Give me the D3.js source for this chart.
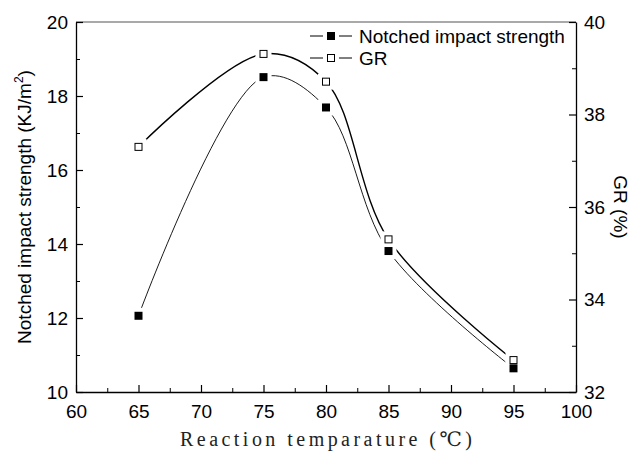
<!DOCTYPE html>
<html>
<head>
<meta charset="utf-8">
<script src="https://cdn.jsdelivr.net/npm/d3@7"></script>
<style>
  body { margin: 0; background: #fff; }
  text { font-family: "Liberation Sans", Arial, sans-serif; }
</style>
</head>
<body>
<div id="chart"></div>
<script>
// reaction temperature vs notched impact strength + GR, dual y axis

let temps = [65, 75, 80, 85, 95]
let impact = [12.06, 18.51, 17.69, 13.81, 10.64]
let gr = [37.30, 39.31, 38.71, 35.30, 32.69]

let xTicks = [60, 65, 70, 75, 80, 85, 90, 95, 100]
let leftTicks = [10, 12, 14, 16, 18, 20]
let rightTicks = [32, 34, 36, 38, 40]

let margin = {top: 22, bottom: 62, left: 76, right: 59}
let width = 635 - margin.left - margin.right
let height = 454 - margin.top - margin.bottom

let svg = d3.select('#chart')
    .append('svg')
    .attr('width', 635)
    .attr('height', 454)

let g = svg.append('g')
    .attr('transform', `translate(${margin.left},${margin.top})`)

let x = d3.scaleLinear().domain([60, 100]).range([0, width])
let yL = d3.scaleLinear().domain([10, 20]).range([height, 0])
let yR = d3.scaleLinear().domain([32, 40]).range([height, 0])

let fontSize = 19

// frame top line
g.append('line')
    .attr('x1', 0).attr('x2', width)
    .attr('y1', 0).attr('y2', 0)
    .attr('stroke', '#555').attr('stroke-width', 1.2)

// axes (ticks inward)
function styleAxis(sel) {
    sel.select('.domain').attr('stroke', '#000').attr('stroke-width', 1.3)
    sel.selectAll('.tick line').attr('stroke', '#000').attr('stroke-width', 1.2)
    sel.selectAll('.tick text')
        .attr('font-size', fontSize)
        .attr('fill', '#000')
        .attr('font-family', '"Liberation Sans", Arial, sans-serif')
}

// minor ticks
g.append('g')
    .attr('transform', `translate(0,${height})`)
    .call(d3.axisBottom(x).tickValues(d3.range(62.5, 100, 5)).tickSize(-4).tickFormat(''))
    .call(s => { s.select('.domain').remove(); s.selectAll('line').attr('stroke', '#000') })
g.append('g')
    .call(d3.axisLeft(yL).tickValues(d3.range(11, 20, 2)).tickSize(-4).tickFormat(''))
    .call(s => { s.select('.domain').remove(); s.selectAll('line').attr('stroke', '#000') })
g.append('g')
    .attr('transform', `translate(${width},0)`)
    .call(d3.axisRight(yR).tickValues(d3.range(33, 40, 2)).tickSize(-4).tickFormat(''))
    .call(s => { s.select('.domain').remove(); s.selectAll('line').attr('stroke', '#000') })

let xAxis = g.append('g')
    .attr('transform', `translate(0,${height})`)
    .call(d3.axisBottom(x).tickValues(xTicks).tickSize(-7).tickPadding(8).tickSizeOuter(0))
    .call(styleAxis)
xAxis.selectAll('.tick text').attr('dy', '0.95em')

let leftAxis = g.append('g')
    .call(d3.axisLeft(yL).tickValues(leftTicks).tickSize(-7).tickPadding(6).tickSizeOuter(0))
    .call(styleAxis)
leftAxis.selectAll('.tick text').attr('dx', '-2')

let rightAxis = g.append('g')
    .attr('transform', `translate(${width},0)`)
    .call(d3.axisRight(yR).tickValues(rightTicks).tickSize(-7).tickPadding(6).tickSizeOuter(0))
    .call(styleAxis)
rightAxis.selectAll('.tick text').attr('dx', '2')

// series lines
let impactLine = d3.line()
    .x((d, i) => x(temps[i]))
    .y(d => yL(d))
    .curve(d3.curveCatmullRom.alpha(0.5))
let grLine = d3.line()
    .x((d, i) => x(temps[i]))
    .y(d => yR(d))
    .curve(d3.curveCatmullRom.alpha(0.5))

g.append('path')
    .datum(impact)
    .attr('d', impactLine)
    .attr('fill', 'none')
    .attr('stroke', '#000')
    .attr('stroke-width', 0.9)

g.append('path')
    .datum(gr)
    .attr('d', grLine)
    .attr('fill', 'none')
    .attr('stroke', '#000')
    .attr('stroke-width', 1.4)

// white halos so lines stop short of the markers
let halo = 16
g.selectAll('.halo-imp')
    .data(impact)
    .enter()
    .append('rect')
    .attr('x', (d, i) => x(temps[i]) - halo / 2)
    .attr('y', d => yL(d) - halo / 2)
    .attr('width', halo).attr('height', halo)
    .attr('fill', '#fff')
g.selectAll('.halo-gr')
    .data(gr)
    .enter()
    .append('rect')
    .attr('x', (d, i) => x(temps[i]) - halo / 2)
    .attr('y', d => yR(d) - halo / 2)
    .attr('width', halo).attr('height', halo)
    .attr('fill', '#fff')

let ms = 8
g.selectAll('.imp-pt')
    .data(impact)
    .enter()
    .append('rect')
    .attr('class', 'imp-pt')
    .attr('x', (d, i) => x(temps[i]) - ms / 2)
    .attr('y', d => yL(d) - ms / 2)
    .attr('width', ms).attr('height', ms)
    .attr('fill', '#000')

g.selectAll('.gr-pt')
    .data(gr)
    .enter()
    .append('rect')
    .attr('class', 'gr-pt')
    .attr('x', (d, i) => x(temps[i]) - ms / 2 + 0.5)
    .attr('y', d => yR(d) - ms / 2 + 0.5)
    .attr('width', ms - 1).attr('height', ms - 1)
    .attr('fill', '#fff')
    .attr('stroke', '#000')
    .attr('stroke-width', 1)

// legend
let legendItems = [
    {name: 'Notched impact strength', filled: true, y: 36},
    {name: 'GR', filled: false, y: 58}
]
let leg = svg.append('g')
leg.selectAll('.leg-line')
    .data(legendItems)
    .enter()
    .append('g')
    .each(function(d) {
        let el = d3.select(this)
        el.append('line').attr('x1', 310).attr('x2', 323).attr('y1', d.y).attr('y2', d.y)
            .attr('stroke', '#000').attr('stroke-width', 1)
        el.append('line').attr('x1', 339).attr('x2', 352).attr('y1', d.y).attr('y2', d.y)
            .attr('stroke', '#000').attr('stroke-width', 1)
        el.append('rect')
            .attr('x', d.filled ? 327 : 327.5)
            .attr('y', d.filled ? d.y - 4 : d.y - 3.5)
            .attr('width', d.filled ? 8 : 7).attr('height', d.filled ? 8 : 7)
            .attr('fill', d.filled ? '#000' : '#fff')
            .attr('stroke', d.filled ? 'none' : '#000')
        el.append('text')
            .attr('x', 359).attr('y', d.y)
            .attr('dy', '0.35em')
            .attr('font-size', fontSize)
            .text(d.name)
    })

// axis titles
svg.append('text')
    .attr('transform', `translate(24,${margin.top + height / 2}) rotate(-90)`)
    .attr('text-anchor', 'middle')
    .attr('dy', '0.35em')
    .attr('font-size', fontSize)
    .html('Notched impact strength (KJ/m<tspan dy="-8" font-size="12">2</tspan><tspan dy="8">)</tspan>')

svg.append('text')
    .attr('transform', `translate(621,${margin.top + height / 2}) rotate(90)`)
    .attr('text-anchor', 'middle')
    .attr('dy', '0.35em')
    .attr('font-size', fontSize)
    .text('GR (%)')

svg.append('text')
    .attr('x', margin.left + width / 2)
    .attr('y', 439)
    .attr('text-anchor', 'middle')
    .attr('dy', '0.35em')
    .attr('font-size', 20)
    .attr('fill', '#222')
    .attr('textLength', 292)
    .attr('lengthAdjust', 'spacing')
    .style('font-family', '"Liberation Serif", "DejaVu Serif", serif')
    .text('Reaction temparature (℃)')
</script>
</body>
</html>
